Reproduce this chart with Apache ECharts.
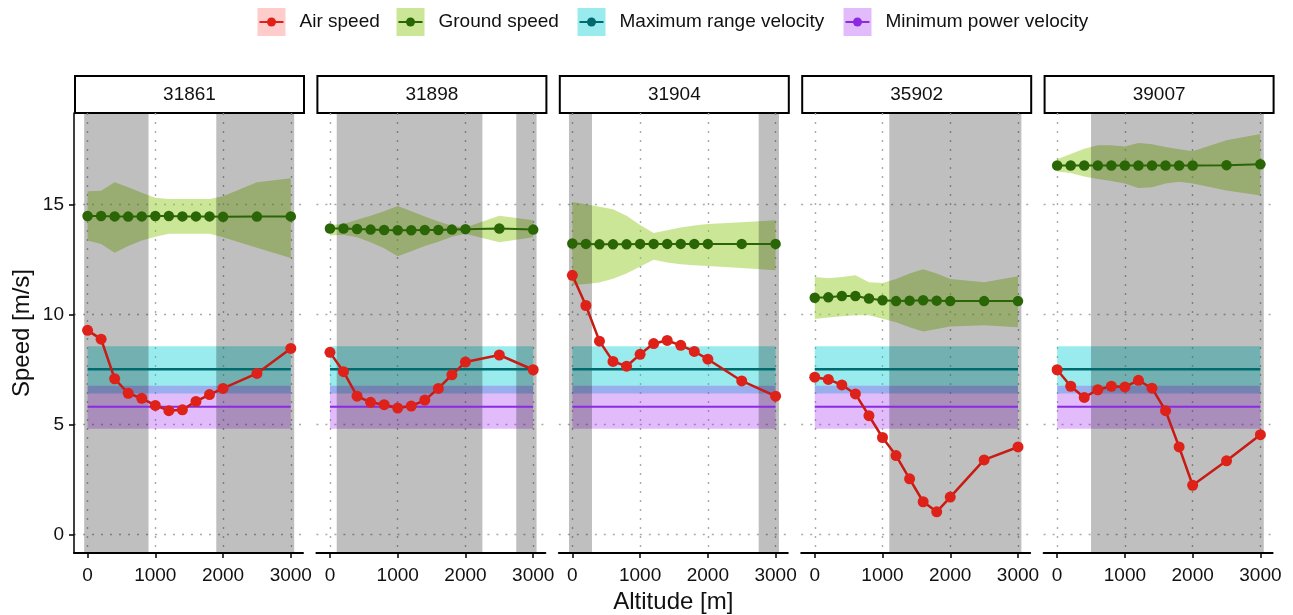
<!DOCTYPE html>
<html>
<head>
<meta charset="utf-8">
<script src="https://cdn.jsdelivr.net/npm/echarts@6/dist/echarts.min.js"></script>
<style>
  html, body { margin: 0; padding: 0; background: #fff; }
  #chart { width: 1293px; height: 615px; }
</style>
</head>
<body>
<div id="chart"></div>
<script>
// --- data ---
const altitudes = [0, 200, 400, 600, 800, 1000, 1200, 1400, 1600, 1800, 2000, 2500, 3000];
const panels = ['31861', '31898', '31904', '35902', '39007'];

const airSpeed = [
  [9.27, 8.87, 7.07, 6.41, 6.18, 5.86, 5.62, 5.66, 6.04, 6.35, 6.63, 7.31, 8.45],
  [8.27, 7.39, 6.28, 6.0, 5.89, 5.74, 5.83, 6.1, 6.63, 7.25, 7.83, 8.15, 7.48],
  [11.77, 10.4, 8.78, 7.86, 7.64, 8.18, 8.67, 8.81, 8.59, 8.31, 7.96, 6.97, 6.28],
  [7.14, 7.04, 6.79, 6.38, 5.39, 4.4, 3.58, 2.52, 1.48, 1.02, 1.69, 3.38, 3.97],
  [7.48, 6.73, 6.22, 6.57, 6.73, 6.7, 7.0, 6.64, 5.62, 3.97, 2.23, 3.34, 4.53]
];
const groundSpeed = [
  [14.47, 14.47, 14.45, 14.44, 14.45, 14.47, 14.47, 14.45, 14.45, 14.45, 14.43, 14.44, 14.45],
  [13.9, 13.9, 13.88, 13.85, 13.83, 13.82, 13.82, 13.83, 13.83, 13.85, 13.87, 13.9, 13.85],
  [13.22, 13.2, 13.18, 13.18, 13.18, 13.2, 13.2, 13.2, 13.2, 13.2, 13.2, 13.2, 13.2],
  [10.75, 10.77, 10.83, 10.83, 10.72, 10.64, 10.6, 10.62, 10.64, 10.62, 10.6, 10.6, 10.6],
  [16.76, 16.76, 16.76, 16.76, 16.76, 16.76, 16.76, 16.76, 16.76, 16.76, 16.76, 16.78, 16.82]
];
const groundUpper = [
  [15.59, 15.62, 16.0, 15.77, 15.52, 15.3, 15.24, 15.24, 15.24, 15.24, 15.37, 16.0, 16.18],
  [14.06, 14.1, 14.3, 14.48, 14.68, 14.92, 14.68, 14.45, 14.22, 14.02, 13.95, 14.48, 14.27],
  [15.11, 15.0, 14.89, 14.77, 14.48, 14.06, 13.69, 13.82, 13.95, 14.04, 14.1, 14.18, 14.27],
  [11.69, 11.64, 11.69, 11.77, 11.46, 11.42, 11.6, 11.85, 12.05, 11.85, 11.6, 11.46, 11.73],
  [17.05, 17.29, 17.52, 17.68, 17.68, 17.63, 17.79, 17.73, 17.6, 17.5, 17.41, 17.91, 18.2]
];
const groundLower = [
  [13.35, 13.19, 12.8, 13.1, 13.35, 13.53, 13.66, 13.66, 13.66, 13.66, 13.5, 13.03, 12.56],
  [13.58, 13.62, 13.5, 13.27, 13.0, 12.64, 12.87, 13.1, 13.3, 13.53, 13.66, 13.27, 13.5],
  [11.33, 11.38, 11.45, 11.62, 11.85, 12.17, 12.48, 12.36, 12.28, 12.23, 12.2, 12.1, 12.0],
  [9.79, 9.85, 9.91, 9.96, 9.96, 9.8, 9.64, 9.41, 9.22, 9.33, 9.45, 9.5, 9.41],
  [16.49, 16.42, 16.26, 16.15, 16.06, 15.95, 15.74, 15.78, 15.95, 16.03, 15.95, 15.63, 15.4]
];
// shaded altitude ranges per panel
const shaded = [
  [[-50, 900], [1900, 3050]],
  [[100, 2250], [2750, 3050]],
  [[-50, 290], [2750, 3050]],
  [[1100, 3050]],
  [[500, 3050]]
];
const maxRange = 7.5;
const maxRangeBand = [6.4, 8.55];
const minPower = 5.8;
const minPowerBand = [4.8, 6.75];
const refExtent = [0, 3000];

const xTicks = [0, 1000, 2000, 3000];
const yTicks = [0, 5, 10, 15];

const legendNames = ['Air speed', 'Ground speed', 'Maximum range velocity', 'Minimum power velocity'];

// --- styling ---
const FONT = 'Liberation Sans, Arial, sans-serif';
const C_AIR = '#de2219';
const C_AIR_LINE = '#c81b14';
const C_GROUND = '#2a6606';
const C_MRV = '#006a6e';
const C_MPV = '#8a2be2';
const F_GROUND = 'rgba(154,205,50,0.5)';
const F_MRV = 'rgba(0,206,209,0.4)';
const F_MPV = 'rgba(160,32,240,0.3)';
const F_SHADE = 'rgba(0,0,0,0.25)';

const gridTop = 113, gridHeight = 440, gridWidth = 229, gridLeft0 = 74, gridStep = 242.4;
const gridLeft = panels.map((_, i) => gridLeft0 + i * gridStep);

const gridLine = { show: true, lineStyle: { color: '#a9a9a9', width: 1.4, type: [2, 7] } };

const grids = [], xAxes = [], yAxes = [], series = [], graphics = [];

panels.forEach((name, i) => {
  grids.push({
    left: gridLeft[i], top: gridTop, width: gridWidth, height: gridHeight,
    containLabel: false, outerBoundsMode: 'none'
  });

  xAxes.push({
    type: 'value', gridIndex: i, min: -200, max: 3180,
    axisLine: { show: true, onZero: false, lineStyle: { color: '#000', width: 2 } },
    axisTick: { show: true, length: 5, customValues: xTicks, lineStyle: { color: '#000', width: 1.5 } },
    axisLabel: { customValues: xTicks, formatter: v => String(v), color: '#111', fontSize: 19, fontFamily: FONT, margin: 13 },
    splitLine: gridLine,
    name: i === 2 ? 'Altitude [m]' : '',
    nameLocation: 'middle', nameGap: 37,
    nameTextStyle: { fontSize: 24, color: '#111', fontFamily: FONT }
  });

  yAxes.push({
    type: 'value', gridIndex: i, min: -0.85, max: 19.15,
    axisLine: { show: i === 0, onZero: false, lineStyle: { color: '#000', width: 1.5 } },
    axisTick: { show: i === 0, length: 5, customValues: yTicks, lineStyle: { color: '#000', width: 1.5 } },
    axisLabel: { show: i === 0, customValues: yTicks, color: '#111', fontSize: 19, fontFamily: FONT, margin: 10 },
    splitLine: gridLine,
    name: i === 0 ? 'Speed [m/s]' : '',
    nameLocation: 'middle', nameGap: 40, nameRotate: 90,
    nameTextStyle: { fontSize: 24, color: '#111', fontFamily: FONT }
  });

  const pts = (ys) => altitudes.map((a, k) => [a, ys[k]]);
  const common = { xAxisIndex: i, yAxisIndex: i, animation: false, silent: true };
  const up = groundUpper[i], lo = groundLower[i];

  // ground speed ribbon as one polygon through the axis scales
  series.push(Object.assign({}, common, {
    type: 'custom', z: 2,
    data: altitudes.map((a, k) => [a, lo[k], up[k]]),
    encode: { x: 0, y: [1, 2] },
    renderItem: (params, api) => {
      if (params.dataIndex !== 0) return null;
      const top = altitudes.map((a, k) => api.coord([a, up[k]]));
      const bottom = altitudes.map((a, k) => api.coord([a, lo[k]])).reverse();
      return { type: 'polygon', shape: { points: top.concat(bottom) }, style: { fill: F_GROUND } };
    }
  }));

  // reference velocity lines; first hosts the bands, second the shaded altitude ranges
  series.push(Object.assign({}, common, {
    type: 'line', z: 4, symbol: 'none',
    data: refExtent.map(a => [a, maxRange]),
    lineStyle: { color: C_MRV, width: 2.5 },
    markArea: {
      z: 1, silent: true,
      data: [
        [{ xAxis: refExtent[0], yAxis: maxRangeBand[0], itemStyle: { color: F_MRV } }, { xAxis: refExtent[1], yAxis: maxRangeBand[1] }],
        [{ xAxis: refExtent[0], yAxis: minPowerBand[0], itemStyle: { color: F_MPV } }, { xAxis: refExtent[1], yAxis: minPowerBand[1] }]
      ]
    }
  }));
  series.push(Object.assign({}, common, {
    type: 'line', z: 4, symbol: 'none',
    data: refExtent.map(a => [a, minPower]),
    lineStyle: { color: C_MPV, width: 2 },
    markArea: {
      z: 3, silent: true,
      itemStyle: { color: F_SHADE },
      data: shaded[i].map(r => [{ xAxis: r[0] }, { xAxis: r[1] }])
    }
  }));

  series.push(Object.assign({}, common, {
    type: 'line', z: 5, symbol: 'circle', symbolSize: 10.5, showAllSymbol: true,
    data: pts(groundSpeed[i]),
    lineStyle: { color: C_GROUND, width: 2 }, itemStyle: { color: C_GROUND }
  }));
  series.push(Object.assign({}, common, {
    type: 'line', z: 6, symbol: 'circle', symbolSize: 11, showAllSymbol: true,
    data: pts(airSpeed[i]),
    lineStyle: { color: C_AIR_LINE, width: 2.5 }, itemStyle: { color: C_AIR }
  }));

  // facet strip
  graphics.push({
    type: 'group', left: gridLeft[i], top: 75,
    children: [
      { type: 'rect', shape: { x: 0, y: 0, width: gridWidth, height: 37 },
        style: { fill: '#fff', stroke: '#000', lineWidth: 2 } },
      { type: 'text', x: gridWidth / 2, y: 19,
        style: { text: name, fontSize: 19, fontFamily: FONT, fill: '#111', align: 'center', verticalAlign: 'middle' } }
    ]
  });
});

// legend drawn by hand: filled key, line with a dot, label
const legendKeyX = [257, 396, 577, 843];
const legendFill = ['rgba(255,0,0,0.2)', F_GROUND, F_MRV, F_MPV];
const legendLine = [C_AIR, C_GROUND, C_MRV, C_MPV];
legendNames.forEach((n, k) => {
  graphics.push({
    type: 'group', left: legendKeyX[k], top: 8,
    children: [
      { type: 'rect', shape: { x: 0, y: 0, width: 28, height: 28 }, style: { fill: legendFill[k] } },
      { type: 'line', shape: { x1: 2, y1: 14, x2: 26, y2: 14 }, style: { stroke: legendLine[k], lineWidth: 2 } },
      { type: 'circle', shape: { cx: 14, cy: 14, r: 4.5 }, style: { fill: legendLine[k] } },
      { type: 'text', x: 42, y: 14,
        style: { text: n, fontSize: 19, fontFamily: FONT, fill: '#111', verticalAlign: 'middle' } }
    ]
  });
});

const chart = echarts.init(document.getElementById('chart'));
chart.setOption({
  animation: false,
  backgroundColor: '#fff',
  grid: grids,
  xAxis: xAxes,
  yAxis: yAxes,
  series: series,
  graphic: graphics
});
</script>
</body>
</html>
